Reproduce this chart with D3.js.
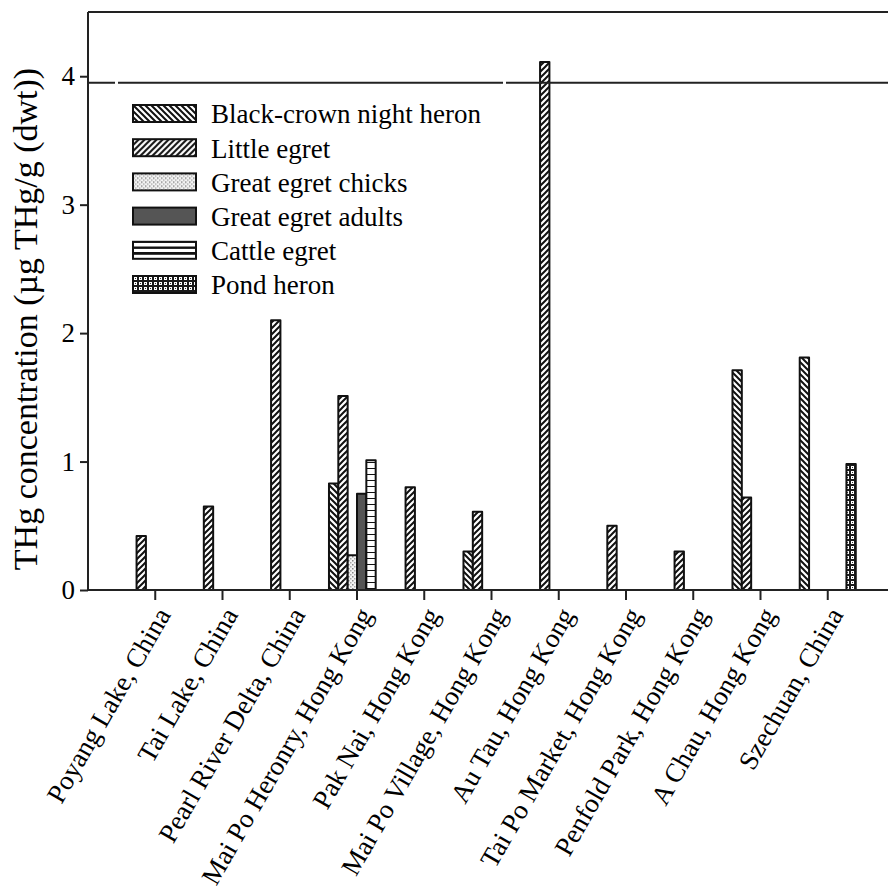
<!DOCTYPE html>
<html>
<head>
<meta charset="utf-8">
<script src="https://cdn.jsdelivr.net/npm/d3@7"></script>
<style>
  body { margin: 0; background: #fff; }
  svg text { font-family: "Liberation Serif", "Times New Roman", serif; fill: #000; }
</style>
</head>
<body>
<div id="chart"></div>
<script>
const sites = [
  "Poyang Lake, China", "Tai Lake, China", "Pearl River Delta, China",
  "Mai Po Heronry, Hong Kong", "Pak Nai, Hong Kong", "Mai Po Village, Hong Kong",
  "Au Tau, Hong Kong", "Tai Po Market, Hong Kong", "Penfold Park, Hong Kong",
  "A Chau, Hong Kong", "Szechuan, China"
];
const species = [
  "Black-crown night heron", "Little egret", "Great egret chicks",
  "Great egret adults", "Cattle egret", "Pond heron"
];

// THg concentration per site, one array per species (null = no data)
const blackCrown  = [null, null, null, 0.83, null, 0.30, null, null, null, 1.71, 1.81];
const littleEgret = [0.42, 0.65, 2.10, 1.51, 0.80, 0.61, 4.11, 0.50, 0.30, 0.72, null];
const egretChicks = [null, null, null, 0.27, null, null, null, null, null, null, null];
const egretAdults = [null, null, null, 0.75, null, null, null, null, null, null, null];
const cattleEgret = [null, null, null, 1.01, null, null, null, null, null, null, null];
const pondHeron   = [null, null, null, null, null, null, null, null, null, null, 0.98];
const seriesValues = [blackCrown, littleEgret, egretChicks, egretAdults, cattleEgret, pondHeron];

const yTicks = [0, 1, 2, 3, 4];
const refLine = 3.95;

const width = 888, height = 889;
const margin = {top: 12, left: 88, bottom: 299};
const plotRight = 895;

const svg = d3.select("#chart").append("svg")
  .attr("width", width)
  .attr("height", height);

// patterns
const defs = svg.append("defs");
const patIds = ["p-bcnh", "p-le", "p-gec", "p-gea", "p-ce", "p-ph"];

let p = defs.append("pattern").attr("id", "p-bcnh").attr("patternUnits", "userSpaceOnUse")
  .attr("width", 6).attr("height", 6);
p.append("rect").attr("width", 6).attr("height", 6).attr("fill", "#fff");
p.append("path").attr("d", "M-1,-1L7,7M-1,5L1,7M5,-1L7,1")
  .attr("stroke", "#111").attr("stroke-width", 2);

p = defs.append("pattern").attr("id", "p-le").attr("patternUnits", "userSpaceOnUse")
  .attr("width", 6).attr("height", 6);
p.append("rect").attr("width", 6).attr("height", 6).attr("fill", "#fff");
p.append("path").attr("d", "M-1,7L7,-1M-1,1L1,-1M5,7L7,5")
  .attr("stroke", "#111").attr("stroke-width", 2);

p = defs.append("pattern").attr("id", "p-gec").attr("patternUnits", "userSpaceOnUse")
  .attr("width", 4).attr("height", 4);
p.append("rect").attr("width", 4).attr("height", 4).attr("fill", "#f4f4f4");
p.append("rect").attr("x", 0).attr("y", 0).attr("width", 1.5).attr("height", 1.5).attr("fill", "#888");
p.append("rect").attr("x", 2).attr("y", 2).attr("width", 1.5).attr("height", 1.5).attr("fill", "#aaa");

p = defs.append("pattern").attr("id", "p-gea").attr("patternUnits", "userSpaceOnUse")
  .attr("width", 4).attr("height", 4);
p.append("rect").attr("width", 4).attr("height", 4).attr("fill", "#555");

p = defs.append("pattern").attr("id", "p-ce").attr("patternUnits", "userSpaceOnUse")
  .attr("width", 6).attr("height", 6);
p.append("rect").attr("width", 6).attr("height", 6).attr("fill", "#fff");
p.append("line").attr("x1", 0).attr("x2", 6).attr("y1", 0).attr("y2", 0)
  .attr("stroke", "#111").attr("stroke-width", 2);

p = defs.append("pattern").attr("id", "p-ph").attr("patternUnits", "userSpaceOnUse")
  .attr("width", 5).attr("height", 5);
p.append("rect").attr("width", 5).attr("height", 5).attr("fill", "#1a1a1a");
p.append("rect").attr("x", 1).attr("y", 1).attr("width", 3).attr("height", 3).attr("fill", "#fff");
p.append("rect").attr("x", 2).attr("y", 2).attr("width", 1).attr("height", 1).attr("fill", "#333");

// scales
const x0 = d3.scaleBand().domain(sites).range([margin.left, plotRight])
  .paddingInner(0).paddingOuter(0.5);
const x1 = d3.scaleBand().domain(species).range([0, x0.bandwidth()])
  .paddingInner(0).paddingOuter(0.6);
const y = d3.scaleLinear().domain([0, 4.5]).range([height - margin.bottom, margin.top]);

// bars
const barData = [];
sites.forEach((s, i) => {
  species.forEach((sp, j) => {
    const v = seriesValues[j][i];
    if (v != null) barData.push({site: s, sp: sp, j: j, v: v});
  });
});

svg.append("g").selectAll("rect")
  .data(barData)
  .join("rect")
  .attr("x", d => x0(d.site) + x1(d.sp))
  .attr("y", d => y(d.v))
  .attr("width", x1.bandwidth())
  .attr("height", d => y(0) - y(d.v))
  .attr("fill", d => `url(#${patIds[d.j]})`)
  .attr("stroke", "#111")
  .attr("stroke-width", 2)
  .attr("stroke-linejoin", "round");

// reference line
const lineLen = width - margin.left;
svg.append("line")
  .attr("x1", margin.left).attr("x2", width)
  .attr("y1", y(refLine)).attr("y2", y(refLine))
  .attr("stroke", "#222").attr("stroke-width", 2)
  .attr("stroke-dasharray", `27,3,385,3,${lineLen}`);

// frame
svg.append("line").attr("x1", margin.left).attr("x2", width)
  .attr("y1", margin.top).attr("y2", margin.top)
  .attr("stroke", "#222").attr("stroke-width", 2);

// y axis
const yAxis = svg.append("g")
  .attr("transform", `translate(${margin.left},0)`)
  .call(d3.axisLeft(y).tickValues(yTicks).tickFormat(d3.format("d")).tickSize(8).tickSizeOuter(0));
yAxis.select(".domain").attr("stroke", "#222").attr("stroke-width", 2)
  .attr("d", `M0,${margin.top}V${y(0)}`);
yAxis.selectAll(".tick line").attr("stroke", "#222").attr("stroke-width", 2);
yAxis.selectAll(".tick text").attr("font-size", 27).attr("x", -13)
  .style("font-family", '"Liberation Serif", serif').attr("fill", "#000");

// x axis
const xAxis = svg.append("g")
  .attr("transform", `translate(0,${y(0)})`)
  .call(d3.axisBottom(x0).tickSize(10).tickSizeOuter(0));
xAxis.select(".domain").attr("stroke", "#222").attr("stroke-width", 2)
  .attr("d", `M${margin.left},0H${width}`);
xAxis.selectAll(".tick line").attr("stroke", "#222").attr("stroke-width", 2);
xAxis.selectAll(".tick text")
  .attr("font-size", 27)
  .style("font-family", '"Liberation Serif", serif')
  .attr("fill", "#000")
  .attr("text-anchor", "end")
  .attr("x", 0).attr("y", 0).attr("dy", "0.35em")
  .attr("transform", "translate(8,20) rotate(-60)");

// y title
svg.append("text")
  .attr("transform", `translate(37,319) rotate(-90)`)
  .attr("text-anchor", "middle")
  .attr("font-size", 34)
  .text("THg concentration (µg THg/g (dwt))");

// legend
const legend = svg.append("g").attr("transform", "translate(133,105)");
const rowH = 34.2;
species.forEach((sp, j) => {
  const g = legend.append("g").attr("transform", `translate(0,${j * rowH})`);
  g.append("rect").attr("width", 63).attr("height", 17)
    .attr("fill", `url(#${patIds[j]})`)
    .attr("stroke", "#111").attr("stroke-width", 2);
  if (j === 4) {
    g.append("line").attr("x1", 0).attr("x2", 63).attr("y1", 5.7).attr("y2", 5.7)
      .attr("stroke", "#111").attr("stroke-width", 2);
    g.append("line").attr("x1", 0).attr("x2", 63).attr("y1", 11.3).attr("y2", 11.3)
      .attr("stroke", "#111").attr("stroke-width", 2);
  }
  g.append("text").attr("x", 78).attr("y", 9).attr("dy", "0.35em")
    .attr("font-size", 27).text(sp);
});
</script>
</body>
</html>
